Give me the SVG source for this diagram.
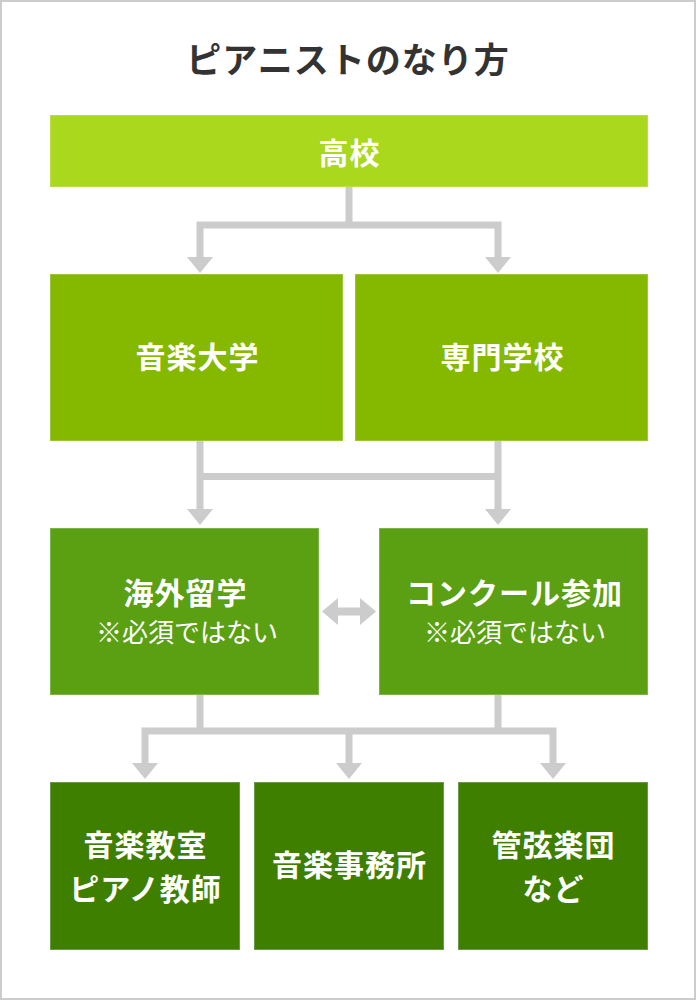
<svg xmlns="http://www.w3.org/2000/svg" width="696" height="1001" viewBox="0 0 696 1001">
<style>
.t{font-family:"Noto Sans CJK JP","Noto Sans CJK SC",sans-serif;fill:#fff;text-anchor:middle}
.b{font-weight:700;font-size:30px;letter-spacing:1px}
.s{font-weight:400;font-size:26px}
.title{font-family:"Noto Sans CJK JP","Noto Sans CJK SC",sans-serif;font-weight:700;font-size:35px;letter-spacing:1px;fill:#333;text-anchor:middle}
.c{fill:none;stroke:#cccccc;stroke-width:7;stroke-linejoin:miter}
.h{fill:#cccccc}
.g1{fill:#a9d81d;stroke:#b8df4a;stroke-width:1}
.g2{fill:#84b900;stroke:#9bc63a;stroke-width:1}
.g3{fill:#5aa012;stroke:#7ab44a;stroke-width:1}
.g4{fill:#3f7f00;stroke:#6a9a45;stroke-width:1}
</style>
<rect x="0" y="0" width="696" height="1001" fill="#fff"/>
<rect x="1" y="1" width="694" height="998" fill="none" stroke="#cccccc" stroke-width="2"/>
<text class="title" x="348" y="73">ピアニストのなり方</text>
<g id="connectors">
<path class="c" d="M349 187V225M200 258V225H498V258"/>
<polygon class="h" points="187,257 213,257 200,273"/>
<polygon class="h" points="485,257 511,257 498,273"/>
<path class="c" d="M200 441V510M498 441V510M200 476.5H498"/>
<polygon class="h" points="187,509 213,509 200,525"/>
<polygon class="h" points="485,509 511,509 498,525"/>
<path class="c" d="M200 695V731M498 695V731M145 764V731H553V764M349 731V764"/>
<polygon class="h" points="132,763 158,763 145,779"/>
<polygon class="h" points="336,763 362,763 349,779"/>
<polygon class="h" points="540,763 566,763 553,779"/>
<polygon class="h" points="322,611.5 338,598 338,607.5 360,607.5 360,598 376,611.5 360,625 360,615.5 338,615.5 338,625"/>
</g>
<g id="n-koukou"><rect class="g1" x="50.5" y="115.5" width="597" height="71"/><text class="t b" x="349.5" y="164">高校</text></g>
<g id="n-ongakudaigaku"><rect class="g2" x="50.5" y="274.5" width="292" height="166"/><text class="t b" x="197.5" y="368">音楽大学</text></g>
<g id="n-senmongakkou"><rect class="g2" x="355.5" y="274.5" width="292" height="166"/><text class="t b" x="502.5" y="368">専門学校</text></g>
<g id="n-kaigairyugaku"><rect class="g3" x="50.5" y="528.5" width="268" height="166"/><text class="t b" x="185.5" y="604">海外留学</text><text class="t s" x="187" y="642">※必須ではない</text></g>
<g id="n-concours"><rect class="g3" x="379.5" y="528.5" width="268" height="166"/><text class="t b" x="514.5" y="604">コンクール参加</text><text class="t s" x="515" y="642">※必須ではない</text></g>
<g id="n-kyoushitsu"><rect class="g4" x="50.5" y="782.5" width="189" height="167"/><text class="t b" x="145.5" y="856">音楽教室</text><text class="t b" x="145.5" y="900">ピアノ教師</text></g>
<g id="n-jimusho"><rect class="g4" x="254.5" y="782.5" width="189" height="167"/><text class="t b" x="349.5" y="876">音楽事務所</text></g>
<g id="n-kangengakudan"><rect class="g4" x="458.5" y="782.5" width="189" height="167"/><text class="t b" x="553.5" y="856">管弦楽団</text><text class="t b" x="553.5" y="900">など</text></g>
</svg>
